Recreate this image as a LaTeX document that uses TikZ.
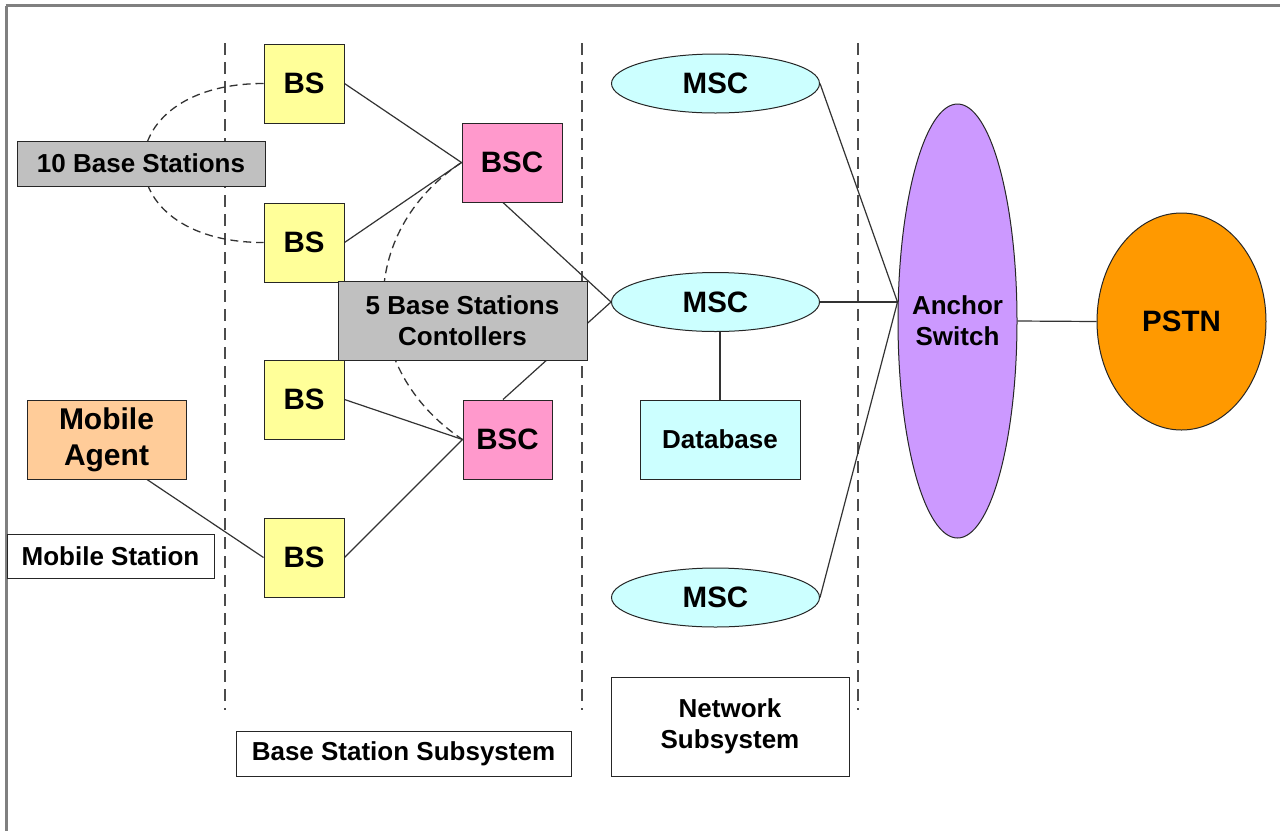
\documentclass[tikz,border=0pt]{standalone}
\usepackage{fontspec}
\setmainfont{Liberation Sans}
\usetikzlibrary{shapes.geometric,backgrounds,calc}
\definecolor{bsyellow}{HTML}{FFFF99}
\definecolor{bscpink}{HTML}{FF99CC}
\definecolor{graybox}{HTML}{C0C0C0}
\definecolor{msccyan}{HTML}{CCFFFF}
\definecolor{peach}{HTML}{FFCC99}
\definecolor{anchorpurple}{HTML}{CC99FF}
\definecolor{pstnorange}{HTML}{FF9900}
\definecolor{framegray}{HTML}{808080}
\newcommand\labfont{\fontsize{26}{31}\selectfont\bfseries}
\newcommand\bigfont{\fontsize{29.5}{36}\selectfont\bfseries}
\newcommand\mafont{\fontsize{30}{36}\selectfont\bfseries}
\begin{document}
\begin{tikzpicture}[x=1pt,y=-1pt,
  box/.style={draw=black!85, line width=1pt, inner sep=0pt, align=center, font=\labfont},
  bsbox/.style={box, fill=bsyellow, minimum width=80pt, minimum height=79pt, font=\bigfont},
  bscbox/.style={box, fill=bscpink, minimum height=79pt, font=\bigfont},
  graylabel/.style={box, fill=graybox},
  whitelabel/.style={box, fill=white},
  mscell/.style={ellipse, draw=black!85, line width=1pt, fill=msccyan, minimum width=208pt, minimum height=59pt, inner sep=0pt, font=\bigfont},
  link/.style={draw=black!80, line width=1.2pt},
  curvedash/.style={draw=black!80, line width=1.3pt, dash pattern=on 8pt off 5pt},
  vdash/.style={draw=black!70, line width=1.5pt, dash pattern=on 12pt off 7pt}
]
\useasboundingbox (0,0) rectangle (1280,831);

% nodes
\node[bsbox] (bs1) at (304,83.5) {BS};
\node[bsbox] (bs2) at (304,242.5) {BS};
\node[bsbox] (bs3) at (304,399.5) {BS};
\node[bsbox] (bs4) at (304,557.5) {BS};
\node[bscbox, minimum width=100pt] (bsc1) at (512,162.5) {BSC};
\node[bscbox, minimum width=89pt] (bsc2) at (507.5,439.5) {BSC};
\node[graylabel, minimum width=248pt, minimum height=45pt] (tenbs) at (141,163.5) {10 Base Stations};
\node[graylabel, minimum width=249pt, minimum height=79pt] (fivebsc) at (462.5,320.5) {5 Base Stations\\Contollers};
\node[mscell] (msc1) at (715.5,83.5) {MSC};
\node[mscell] (msc2) at (715.5,302) {MSC};
\node[mscell] (msc3) at (715.5,597.5) {MSC};
\node[box, fill=msccyan, minimum width=160pt, minimum height=79pt] (db) at (720,439.5) {Database};
\node[whitelabel, minimum width=238pt, minimum height=99pt] (nss) at (730,726.5) {Network\\Subsystem};
\node[whitelabel, minimum width=335pt, minimum height=45pt] (bss) at (403.5,753.5) {Base Station Subsystem};
\node[box, fill=peach, minimum width=159pt, minimum height=79pt, font=\mafont] (ma) at (106.5,439.5) {Mobile\\Agent};
\node[whitelabel, minimum width=207pt, minimum height=44pt] (ms) at (110.5,556) {Mobile Station};
\node[ellipse, draw=black!85, line width=1pt, fill=anchorpurple, minimum width=119pt, minimum height=434pt, inner sep=0pt] (anch) at (957.5,321) {};
\node[font=\labfont, align=center, inner sep=0pt] (anchlabel) at (anch.center) {Anchor\\Switch};
\node[ellipse, draw=black!85, line width=1pt, fill=pstnorange, minimum width=169pt, minimum height=217pt, inner sep=0pt, font=\bigfont] (pstn) at (1181.5,321.5) {PSTN};
\coordinate (hub) at ([yshift=19pt]anch.west);

\begin{pgfonlayer}{background}
  \fill[white] (0,0) rectangle (1280,831);
  % frame
  \draw[framegray, line width=2.5pt] (5.5,5.5) -- (1280,5.5);
  \draw[framegray, line width=2.5pt] (6.5,5.5) -- (6.5,831);
  % subsystem separators
  \draw[vdash] (225,43) -- (225,710);
  \draw[vdash] (582,43) -- (582,710);
  \draw[vdash] (858,43) -- (858,710);
  % grouping curves
  \draw[curvedash] (bs1.west) .. controls +(-160,0) and +(-160,0) .. (bs2.west);
  \draw[curvedash] (bsc1.west) .. controls +(-105,70) and +(-105,-70) .. (bsc2.west);
  % links
  \draw[link] (bs1.east) -- (bsc1.west);
  \draw[link] (bs2.east) -- (bsc1.west);
  \draw[link] (bs3.east) -- (bsc2.west);
  \draw[link] (bs4.east) -- (bsc2.west);
  \draw[link] ([xshift=40.5pt]ma.south) -- (bs4.west);
  \draw[link] ([xshift=-9pt]bsc1.south) -- (msc2.west);
  \draw[link] ([xshift=-4.5pt]bsc2.north) -- (msc2.west);
  \draw[link] (msc1.east) -- (hub);
  \draw[link] (msc2.east) -- (hub);
  \draw[link] (msc3.east) -- (hub);
  \draw[link] (anch.east) -- (pstn.west);
  \draw[link] (db.north) -- (db.north |- msc2.south);
\end{pgfonlayer}
\end{tikzpicture}
\end{document}
